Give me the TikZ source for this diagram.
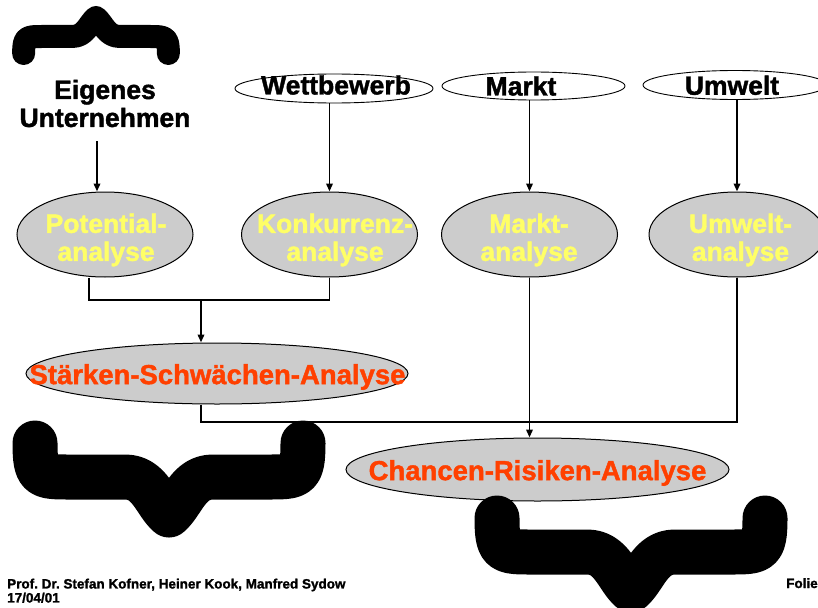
\documentclass[tikz,border=0pt]{standalone}
\usepackage{fontspec}
\setmainfont{Liberation Sans}
\newfontfamily\headfont{Liberation Sans Bold}[FakeBold=1.5]
\usetikzlibrary{shapes.geometric,arrows.meta}
\definecolor{ovalgrey}{HTML}{CCCCCC}
\definecolor{lemon}{HTML}{FFFF66}
\definecolor{signal}{HTML}{FF4000}
\frenchspacing

\begin{document}
\begin{tikzpicture}[x=1pt,y=-1pt,
  oval/.style={ellipse,draw=black,inner sep=0pt,line width=0.9pt},
  plainoval/.style={oval,fill=white},
  greyoval/.style={oval,fill=ovalgrey,line width=1pt},
  lbl/.style={inner sep=0pt,align=center,font=\headfont\fontsize{26.5}{28}\selectfont},
  biglbl/.style={lbl,font=\headfont\fontsize{27.5}{28}\selectfont},
  wire/.style={line width=1.9pt},
  arr/.style={wire,-{Triangle[length=8pt,width=6.5pt]}},
  pics/curlybrace/.style={code={
    \draw[line width=#1,line cap=round,line join=round]
      (-134,23) .. controls (-134,57) and (-129,57) .. (-99,57)
      -- (-44,57) .. controls (-19,57) and (-14,83) .. (0,95)
      .. controls (14,83) and (19,57) .. (44,57)
      -- (99,57) .. controls (129,57) and (134,57) .. (134,23);
  }}
]
\useasboundingbox (0,0) rectangle (818,607);
\clip (0,0) rectangle (818,607);
\fill[white] (0,0) rectangle (818,607);

% sources
\node[lbl,align=center] (eu) at (105,103.5) {Eigenes\\Unternehmen};
\node[plainoval,minimum width=198pt,minimum height=29pt] (wb) at (334,88.5) {};
\node[lbl] (wbt) at (336,85) {Wettbewerb};
\node[plainoval,minimum width=183pt,minimum height=28pt] (mk) at (533.5,86) {};
\node[lbl] (mkt) at (521,86) {Markt};
\node[plainoval,minimum width=184pt,minimum height=29pt] (um) at (735,85) {};
\node[lbl] (umt) at (732,85.3) {Umwelt};

% partial analyses
\node[greyoval,minimum width=176pt,minimum height=85pt] (pot) at (105,234.5) {};
\node[lbl,text=lemon] (pott) at (106,240) {Potential-\\analyse};
\node[greyoval,minimum width=176pt,minimum height=85pt] (kon) at (329.5,234.5) {};
\node[lbl,text=lemon] (kont) at (335,240) {Konkurrenz-\\analyse};
\node[greyoval,minimum width=176pt,minimum height=85pt] (ma) at (529.5,234.5) {};
\node[lbl,text=lemon] (mat) at (529,240) {Markt-\\analyse};
\node[greyoval,minimum width=176pt,minimum height=85pt] (ua) at (737,234.5) {};
\node[lbl,text=lemon] (uat) at (740.5,240) {Umwelt-\\analyse};

% syntheses
\node[greyoval,minimum width=382pt,minimum height=61pt] (ssa) at (217,373.5) {};
\node[biglbl,text=signal] (ssat) at (217.5,377) {Stärken-Schwächen-Analyse};
\node[greyoval,minimum width=383pt,minimum height=63pt] (cra) at (537.5,469.5) {};
\node[biglbl,text=signal] (crat) at (537.5,473) {Chancen-Risiken-Analyse};

% junctions
\coordinate (j1) at (201,300);
\coordinate (j2) at (529,422);

% connectors
\draw[arr] ([xshift=-8pt,yshift=-14pt]eu.south) -- ([xshift=-8pt]pot.north);
\draw[arr] (wb.south -| kon.north) -- (kon.north);
\draw[arr] (mk.south -| ma.north) -- (ma.north);
\draw[arr] (um.south -| ua.north) -- (ua.north);
\draw[wire] ([xshift=-16pt]pot.south) |- (j1) -| (kon.south);
\draw[arr] (j1) -- (j1 |- ssa.north);
\draw[wire] (ssa.south -| j1) |- (j2) -| (ua.south);
\draw[arr] (ma.south) -- (ma.south |- cra.north);

% braces
\pic[xscale=0.54,yscale=-0.5] at (96,65) {curlybrace=23pt};
\pic at (169,420) {curlybrace=45pt};
\pic at (631,495) {curlybrace=45pt};

% footer
\node[anchor=north west,inner sep=0pt,align=left,
      font=\headfont\fontsize{13.5}{14}\selectfont] (foot) at (7,578.5)
  {Prof. Dr. Stefan Kofner, Heiner Kook, Manfred Sydow\\17/04/01};
\node[anchor=base west,inner sep=0pt,font=\headfont\fontsize{13.5}{14}\selectfont]
  (folie) at (786,588) {Folie};
\end{tikzpicture}
\end{document}
